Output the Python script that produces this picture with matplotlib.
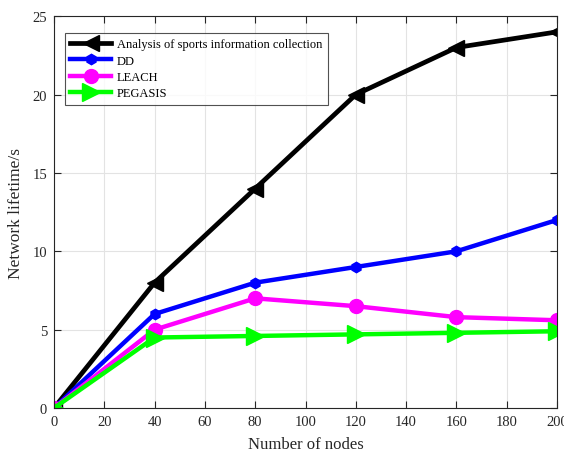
import numpy as np
import matplotlib
matplotlib.use('Agg')
import matplotlib.pyplot as plt

plt.rcParams['font.family'] = ['Liberation Serif', 'DejaVu Serif']

nodes = [0, 40, 80, 120, 160, 200]
sports = [0, 8, 14, 20, 23, 24]
dd = [0, 6, 8, 9, 10, 12]
leach = [0, 5, 7, 6.5, 5.8, 5.6]
pegasis = [0, 4.5, 4.6, 4.7, 4.8, 4.9]

fig = plt.figure(figsize=(5.64, 4.52), dpi=100)
ax = fig.add_axes([0.0957, 0.095, 0.892, 0.867])

ax.plot(nodes, sports, 'k-', marker='<', markersize=12, lw=3.4,
        label='Analysis of sports information collection')
ax.plot(nodes, dd, '-', color='#0000ff', marker='h', markersize=7.5, lw=3.2, label='DD')
ax.plot(nodes, leach, '-', color='#ff00ff', marker='o', markersize=10, lw=3.2, label='LEACH')
ax.plot(nodes, pegasis, '-', color='#00ff00', marker='>', markersize=13, lw=3.2, label='PEGASIS')

ax.set_xlim(0, 200)
ax.set_ylim(0, 25)
ax.set_xticks(np.arange(0, 201, 20))
ax.set_yticks(np.arange(0, 26, 5))
ax.grid(True, color='#e3e3e3', lw=0.8)
ax.set_axisbelow(True)
ax.tick_params(direction='in', top=True, right=True, labelsize=10.5, length=5, width=0.8,
               colors='#262626', pad=5)
for s in ax.spines.values():
    s.set_linewidth(0.8)
    s.set_color('#262626')
ax.set_xlabel('Number of nodes', fontsize=12, color='#262626', labelpad=6)
ax.set_ylabel('Network lifetime/s', fontsize=12.5, color='#262626', labelpad=6)

leg = ax.legend(loc='upper left', bbox_to_anchor=(0.021, 0.958), fontsize=9,
                handlelength=3.3, fancybox=False, edgecolor='#262626',
                borderpad=0.45, labelspacing=0.35, handletextpad=0.45,
                borderaxespad=0)
leg.get_frame().set_linewidth(0.8)

plt.savefig('out.png', dpi=100)
